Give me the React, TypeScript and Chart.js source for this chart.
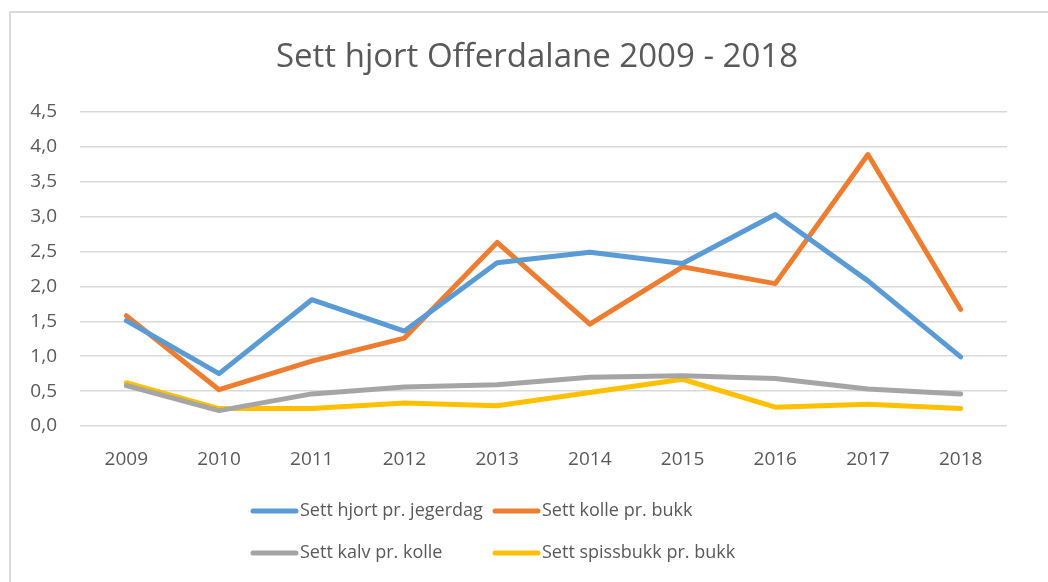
import React, { useEffect, useRef } from "react";
import { Chart, registerables } from "chart.js";

Chart.register(...registerables);

const TITLE = "Sett hjort Offerdalane 2009 - 2018";
const YEARS = ["2009", "2010", "2011", "2012", "2013", "2014", "2015", "2016", "2017", "2018"];
const HJORT_PR_JEGERDAG = [1.51, 0.75, 1.81, 1.36, 2.34, 2.49, 2.33, 3.03, 2.08, 0.99];
const KOLLE_PR_BUKK = [1.58, 0.52, 0.93, 1.26, 2.63, 1.46, 2.28, 2.04, 3.89, 1.67];
const KALV_PR_KOLLE = [0.58, 0.22, 0.46, 0.56, 0.59, 0.7, 0.72, 0.68, 0.53, 0.46];
const SPISSBUKK_PR_BUKK = [0.62, 0.25, 0.25, 0.33, 0.29, 0.48, 0.67, 0.27, 0.31, 0.25];
const SERIES_NAMES = [
  "Sett hjort pr. jegerdag",
  "Sett kolle pr. bukk",
  "Sett kalv pr. kolle",
  "Sett spissbukk pr. bukk",
];
const COLORS = ["#5B9BD5", "#ED7D31", "#A5A5A5", "#FFC000"];
const Y_MIN = 0;
const Y_MAX = 4.5;
const Y_STEP = 0.5;

const FONT = "'Open Sans', sans-serif";
const TEXT = "#595959";

const framePlugin = {
  id: "frame",
  beforeDraw(chart: any) {
    const ctx = chart.ctx;
    ctx.save();
    ctx.fillStyle = "#ffffff";
    ctx.fillRect(0, 0, chart.width, chart.height);
    ctx.strokeStyle = "#D9D9D9";
    ctx.lineWidth = 2;
    ctx.strokeRect(10, 12, chart.width + 50, chart.height + 50);
    ctx.restore();
  },
  afterDraw(chart: any) {
    const ctx = chart.ctx;
    ctx.save();
    // title
    ctx.fillStyle = TEXT;
    ctx.font = `33px ${FONT}`;
    ctx.textAlign = "center";
    ctx.textBaseline = "middle";
    ctx.fillText(TITLE, 537, 58);
    // legend (2 x 2 grid)
    const cols = [251, 493];
    const rows = [chart.height - 71, chart.height - 29];
    ctx.font = `18px ${FONT}`;
    ctx.textAlign = "left";
    chart.data.datasets.forEach((ds: any, i: number) => {
      const x = cols[i % 2];
      const y = rows[Math.floor(i / 2)];
      ctx.strokeStyle = ds.borderColor;
      ctx.lineWidth = 5;
      ctx.lineCap = "round";
      ctx.beginPath();
      ctx.moveTo(x + 2, y);
      ctx.lineTo(x + 45, y);
      ctx.stroke();
      ctx.fillStyle = TEXT;
      ctx.fillText(ds.label, x + 49, y);
    });
    ctx.restore();
  },
};

export default function App() {
  const ref = useRef<HTMLCanvasElement>(null);
  useEffect(() => {
    if (!ref.current) return;
    const seriesValues = [HJORT_PR_JEGERDAG, KOLLE_PR_BUKK, KALV_PR_KOLLE, SPISSBUKK_PR_BUKK];
    const chart = new Chart(ref.current, {
      type: "line",
      data: {
        labels: YEARS,
        datasets: seriesValues.map((vals, i) => ({
          label: SERIES_NAMES[i],
          data: vals,
          borderColor: COLORS[i],
          backgroundColor: COLORS[i],
          borderWidth: 5,
          pointRadius: 0,
          tension: 0,
          borderJoinStyle: "round" as const,
          borderCapStyle: "round" as const,
        })),
      },
      options: {
        animation: false,
        responsive: false,
        layout: { padding: { left: 0, top: 112, right: 41, bottom: 96 } },
        plugins: {
          legend: { display: false },
          title: { display: false },
          tooltip: { enabled: false },
        },
        scales: {
          x: {
            offset: true,
            grid: { display: false, drawTicks: false },
            border: { display: false },
            ticks: {
              color: TEXT,
              font: { family: FONT, size: 19 },
              padding: 22,
              maxRotation: 0,
            },
            afterFit: (s: any) => {
              s.height = 60;
            },
          },
          y: {
            min: Y_MIN,
            max: Y_MAX,
            grid: { color: "#D9D9D9", lineWidth: 1.5, drawTicks: false },
            border: { display: false },
            ticks: {
              stepSize: Y_STEP,
              color: TEXT,
              font: { family: FONT, size: 19 },
              padding: 23,
              callback: (v: any) => Number(v).toFixed(1).replace(".", ","),
            },
            afterFit: (s: any) => {
              s.width = 80;
            },
          },
        },
      },
      plugins: [framePlugin],
    });
    return () => chart.destroy();
  }, []);
  return (
    <div style={{ position: "fixed", left: 0, top: 0, width: 1048, height: 582 }}>
      <canvas ref={ref} width={1048} height={582} style={{ display: "block" }} />
    </div>
  );
}
